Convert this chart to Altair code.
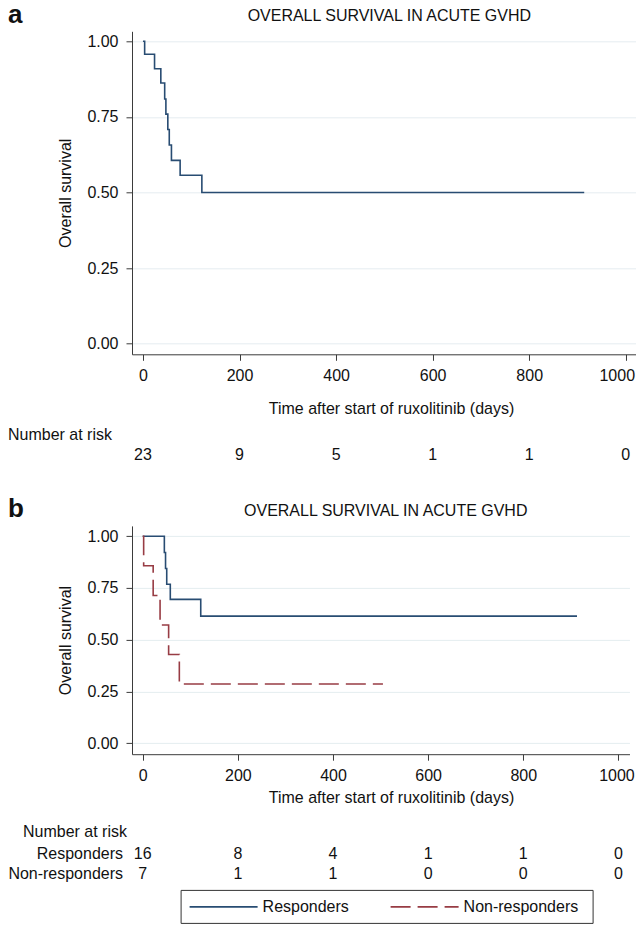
import altair as alt
import pandas as pd

FONT = "Liberation Sans"
BLUE = "#284c72"
RED = "#983c44"
GRID = "#e5edf0"
AXIS = "#3a3a3a"
TXT = "#111111"

TITLE = "OVERALL SURVIVAL IN ACUTE GVHD"
XTITLE = "Time after start of ruxolitinib (days)"
YTITLE = "Overall survival"

x_ticks = [0, 200, 400, 600, 800, 1000]
y_ticks = [0.0, 0.25, 0.5, 0.75, 1.0]

# Panel a: all patients
a_days = [0, 3.5, 24, 37, 45, 47.5, 51.5, 54.5, 59, 77, 122, 914]
a_surv = [1.0, 0.957, 0.909, 0.862, 0.809, 0.759, 0.708, 0.657, 0.606, 0.557, 0.50, 0.50]

# Panel b: responders / non-responders
resp_days = [0, 45.5, 48, 50.5, 58, 122, 913]
resp_surv = [1.0, 0.921, 0.844, 0.768, 0.695, 0.614, 0.614]
nonresp_days = [0, 2, 22, 36.5, 54.5, 77, 505]
nonresp_surv = [1.0, 0.857, 0.714, 0.571, 0.429, 0.286, 0.286]

groups = ["Responders", "Non-responders"]

# Number at risk
risk_times = [0, 200, 400, 600, 800, 1000]
risk_all = [23, 9, 5, 1, 1, 0]
risk_resp = [16, 8, 4, 1, 1, 0]
risk_nonresp = [7, 1, 1, 0, 0, 0]

A_W, A_H = 504.7, 323
B_W, B_H = 497.5, 228.3
A_XDOM = [-22.7, 1022.7]
B_XDOM = [-22.5, 1023.3]
A_YDOM = [-0.0354, 1.0331]
B_YDOM = [-0.0526, 1.0497]


def xaxis(title_y, last_shift):
    return alt.Axis(values=x_ticks, format="d", grid=False, domainColor=AXIS, tickColor=AXIS,
                    tickSize=6, domainWidth=1, tickWidth=1,
                    labelFont=FONT, labelFontSize=16, labelColor=TXT, labelPadding=7,
                    labelFlush=False, labelOverlap=False,
                    labelOffset={"condition": {"test": "datum.value >= 1000", "value": last_shift},
                                 "value": 0},
                    titleFont=FONT, titleFontSize=16, titleFontWeight="normal",
                    titleColor=TXT, titleX=259, titleY=title_y,
                    titleBaseline="alphabetic", titleAlign="center")


def yaxis(h):
    return alt.Axis(values=y_ticks, format=".2f", grid=True, gridColor=GRID, gridWidth=1,
                    domainColor=AXIS, tickColor=AXIS, tickSize=6, domainWidth=1, tickWidth=1,
                    labelFont=FONT, labelFontSize=16, labelColor=TXT, labelPadding=8,
                    labelFlush=False, labelOverlap=False,
                    titleFont=FONT, titleFontSize=16, titleFontWeight="normal",
                    titleColor=TXT, titleX=-62, titleY=h / 2, titleAngle=270,
                    titleBaseline="alphabetic", titleAlign="center")


def label(text, x, y, align="left", size=16, weight="normal"):
    return alt.Chart(pd.DataFrame({"t": [text]})).mark_text(
        font=FONT, fontSize=size, fontWeight=weight, color=TXT, align=align,
        baseline="alphabetic").encode(x=alt.value(x), y=alt.value(y), text="t:N")


# ---------- panel a ----------
df_a = pd.DataFrame({"day": a_days, "surv": a_surv})
xa = alt.Scale(domain=A_XDOM, nice=False, zero=False)
ya = alt.Scale(domain=A_YDOM, nice=False, zero=False)

line_a = alt.Chart(df_a).mark_line(interpolate="step-after", color=BLUE, strokeWidth=1.6).encode(
    x=alt.X("day:Q", scale=xa, axis=xaxis(59, -9), title=XTITLE),
    y=alt.Y("surv:Q", scale=ya, axis=yaxis(A_H), title=YTITLE),
)
risk_a = alt.Chart(pd.DataFrame({"day": risk_times, "n": risk_all})).mark_text(
    font=FONT, fontSize=16, color=TXT, align="center", baseline="alphabetic").encode(
    x=alt.X("day:Q", scale=xa, title=XTITLE), y=alt.value(429), text="n:Q")

panel_a = alt.layer(
    line_a, risk_a,
    label(TITLE, A_W / 2 + 5, -10, align="center"),
    label("Number at risk", -124, 409),
    label("a", -124, -8.5, size=26, weight="bold"),
).properties(width=A_W, height=A_H)

# ---------- panel b ----------
df_b = pd.concat([
    pd.DataFrame({"day": resp_days, "surv": resp_surv, "group": groups[0]}),
    pd.DataFrame({"day": nonresp_days, "surv": nonresp_surv, "group": groups[1]}),
])
xb = alt.Scale(domain=B_XDOM, nice=False, zero=False)
yb = alt.Scale(domain=B_YDOM, nice=False, zero=False)

# long horizontal line symbol (path units are half the symbol size)
legend = alt.Legend(orient="none", legendX=48.6, legendY=364, direction="horizontal",
                    symbolType="M-1,0H7.5", symbolSize=256, symbolStrokeWidth=1.6,
                    labelFont=FONT, labelFontSize=16, labelColor=TXT, labelOffset=56,
                    columnPadding=37, padding=8, strokeColor="#333333",
                    title="\u2003", titleOrient="right", titlePadding=6,
                    titleFont=FONT, titleFontSize=16)

line_b = alt.Chart(df_b).mark_line(interpolate="step-after", strokeWidth=1.6).encode(
    x=alt.X("day:Q", scale=xb, axis=xaxis(48, -2), title=XTITLE),
    y=alt.Y("surv:Q", scale=yb, axis=yaxis(B_H), title=YTITLE),
    color=alt.Color("group:N", scale=alt.Scale(domain=groups, range=[BLUE, RED]),
                    legend=legend),
    strokeDash=alt.StrokeDash("group:N", scale=alt.Scale(domain=groups, range=[[1, 0], [20, 7]]),
                              legend=legend),
)


def risk_row(vals, y):
    return alt.Chart(pd.DataFrame({"day": risk_times, "n": vals})).mark_text(
        font=FONT, fontSize=16, color=TXT, align="center", baseline="alphabetic").encode(
        x=alt.X("day:Q", scale=xb, title=XTITLE), y=alt.value(y), text="n:Q")


panel_b = alt.layer(
    line_b,
    risk_row(risk_resp, 332.7),
    risk_row(risk_nonresp, 352.7),
    label(TITLE, B_W / 2 + 5, -10, align="center"),
    label("Number at risk", -109, 311.2),
    label("Responders", -9, 332.7, align="right"),
    label("Non-responders", -9, 352.7, align="right"),
    label("b", -124, -8.5, size=26, weight="bold"),
).properties(width=B_W, height=B_H)

chart = alt.vconcat(panel_a, panel_b, spacing=171.6, bounds="flush").resolve_scale(
    x="independent", y="independent", color="independent", strokeDash="independent"
).resolve_legend(color="independent", strokeDash="independent").configure_view(
    stroke=None).properties(padding={"left": 0, "top": -6.7, "right": -1.5, "bottom": 0})

chart.save("out.html", embed_options={"renderer": "svg", "actions": False})
